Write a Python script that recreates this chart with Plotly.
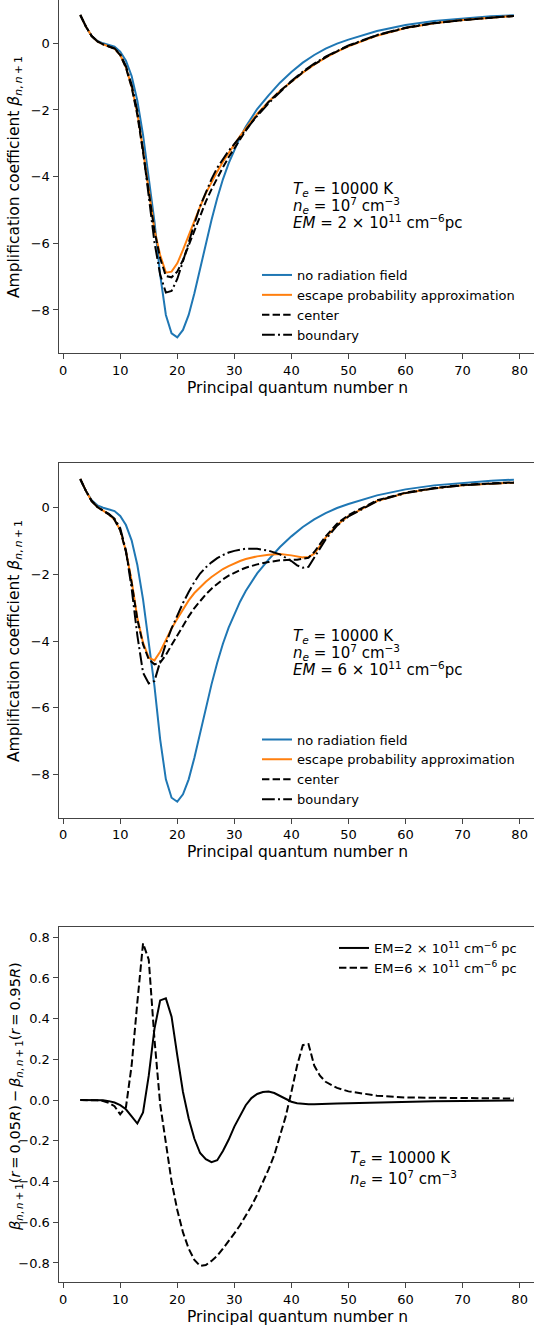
import plotly.graph_objects as go

# ---------------- data ----------------
n_A = list(range(3, 33)) + [34, 36, 38, 40, 42, 44, 46, 48, 50, 55, 60, 65, 70, 75, 79]

no_rad = [0.85, 0.50, 0.22, 0.07, 0.0, -0.05, -0.10, -0.25, -0.52, -0.98,
          -1.72, -2.75, -4.0, -5.35, -6.95, -8.15, -8.70, -8.82, -8.60, -8.15,
          -7.50, -6.75, -6.0, -5.30, -4.65, -4.08, -3.60, -3.18, -2.82, -2.50,
          -1.97, -1.56, -1.18, -0.86, -0.58, -0.35, -0.16, -0.01, 0.11, 0.37,
          0.55, 0.67, 0.75, 0.81, 0.84]

esc_A = [0.85, 0.50, 0.22, 0.06, -0.03, -0.09, -0.16, -0.35, -0.72, -1.30,
         -2.10, -3.20, -4.45, -5.60, -6.35, -6.88, -6.85, -6.60, -6.20, -5.75,
         -5.30, -4.90, -4.50, -4.15, -3.85, -3.55, -3.28, -3.02, -2.78, -2.55,
         -2.12, -1.75, -1.43, -1.15, -0.88, -0.64, -0.43, -0.25, -0.09, 0.23,
         0.46, 0.60, 0.70, 0.77, 0.82]

center_A = [0.85, 0.50, 0.22, 0.06, -0.03, -0.09, -0.16, -0.35, -0.73, -1.32,
            -2.15, -3.27, -4.50, -5.62, -6.45, -6.98, -7.02, -6.85, -6.50, -6.05,
            -5.60, -5.15, -4.75, -4.38, -4.03, -3.72, -3.42, -3.15, -2.88, -2.62,
            -2.15, -1.76, -1.43, -1.14, -0.87, -0.63, -0.42, -0.24, -0.08, 0.24,
            0.46, 0.60, 0.70, 0.77, 0.82]

boundary_A = [0.85, 0.50, 0.22, 0.06, -0.03, -0.09, -0.15, -0.325, -0.685, -1.24,
              -2.035, -3.21, -4.62, -5.97, -6.94, -7.48, -7.43, -7.07, -6.54, -5.96,
              -5.41, -4.89, -4.46, -4.075, -3.735, -3.47, -3.225, -3.02, -2.805, -2.595,
              -2.18, -1.80, -1.45, -1.13, -0.85, -0.61, -0.40, -0.22, -0.065, 0.25,
              0.47, 0.61, 0.70, 0.77, 0.82]

n_B = list(range(3, 33)) + [34, 36, 38, 40, 41, 42, 43, 44, 45, 46, 48, 50, 55, 60, 65, 70, 75, 79]

esc_B = [0.86, 0.50, 0.20, 0.02, -0.09, -0.20, -0.36, -0.67, -1.30, -2.20,
         -3.30, -4.05, -4.50, -4.58, -4.32, -3.95, -3.62, -3.33, -3.05, -2.78,
         -2.56, -2.38, -2.22, -2.08, -1.95, -1.84, -1.75, -1.67, -1.60, -1.54,
         -1.46, -1.41, -1.39, -1.43, -1.46, -1.49, -1.48, -1.38, -1.15, -0.90,
         -0.52, -0.25, 0.20, 0.44, 0.58, 0.67, 0.72, 0.75]

center_B = [0.86, 0.50, 0.20, 0.02, -0.09, -0.20, -0.36, -0.68, -1.32, -2.25,
            -3.35, -4.10, -4.55, -4.70, -4.65, -4.42, -4.12, -3.82, -3.53, -3.26,
            -3.01, -2.79, -2.60, -2.43, -2.28, -2.15, -2.04, -1.95, -1.87, -1.80,
            -1.70, -1.63, -1.58, -1.56, -1.56, -1.53, -1.50, -1.33, -1.10, -0.86,
            -0.48, -0.22, 0.22, 0.45, 0.59, 0.68, 0.73, 0.76]

boundary_B = [0.86, 0.50, 0.20, 0.021, -0.086, -0.187, -0.33, -0.61, -1.285, -2.42,
              -3.83, -4.95, -5.27, -5.20, -4.62, -4.08, -3.62, -3.22, -2.86, -2.53,
              -2.225, -1.975, -1.79, -1.64, -1.515, -1.42, -1.345, -1.295, -1.255, -1.23,
              -1.235, -1.29, -1.40, -1.60, -1.73, -1.80, -1.775, -1.50, -1.22, -0.95,
              -0.54, -0.263, 0.198, 0.437, 0.579, 0.67, 0.721, 0.752]

n_C = list(range(3, 47)) + [48, 50, 55, 60, 65, 70, 75, 79]

diff_em2 = [0.0, 0.0, 0.0, 0.0, -0.001, -0.005, -0.012, -0.025, -0.045, -0.08,
            -0.115, -0.06, 0.12, 0.35, 0.49, 0.50, 0.41, 0.22, 0.04, -0.09,
            -0.19, -0.26, -0.29, -0.305, -0.295, -0.25, -0.195, -0.13, -0.075, -0.025,
            0.01, 0.03, 0.04, 0.042, 0.035, 0.02, 0.005, -0.008, -0.015, -0.019,
            -0.02, -0.02, -0.02, -0.019, -0.017, -0.015, -0.011, -0.008, -0.005, -0.004,
            -0.003, -0.002]

diff_em6 = [0.0, 0.0, 0.0, -0.001, -0.004, -0.013, -0.03, -0.07, -0.035, 0.17,
            0.48, 0.77, 0.69, 0.30, -0.02, -0.22, -0.40, -0.54, -0.65, -0.73,
            -0.785, -0.815, -0.81, -0.79, -0.765, -0.73, -0.695, -0.655, -0.615, -0.57,
            -0.52, -0.465, -0.405, -0.34, -0.27, -0.18, -0.08, 0.04, 0.17, 0.27,
            0.275, 0.17, 0.12, 0.09, 0.06, 0.043, 0.022, 0.013, 0.011, 0.01,
            0.009, 0.008]

x_ticks = [0, 10, 20, 30, 40, 50, 60, 70, 80]
series_names = ["no radiation field", "escape probability approximation", "center", "boundary"]
em_names = ["EM=2 × 10<sup>11</sup> cm<sup>−6</sup> pc", "EM=6 × 10<sup>11</sup> cm<sup>−6</sup> pc"]

# ---------------- styling ----------------
W, H = 534, 1333
FONT = "DejaVu Sans"
BLUE, ORANGE, BLACK = "#1f77b4", "#ff7f0e", "#000000"
LW = 2.0
DASH = "7.4px,3.2px"
DASHDOT = "12.8px,3.2px,2px,3.2px"
AXC = "#444444"

def fx(px):
    return px / W

def fy(py):
    return 1 - py / H

fig = go.Figure()

def add_line(x, y, name, color, dash, xa, ya, leg):
    fig.add_trace(go.Scatter(x=x, y=y, mode="lines", name=name,
                             line=dict(color=color, width=LW, dash=dash),
                             xaxis=xa, yaxis=ya, legend=leg, showlegend=True))

# panel 1
add_line(n_A, no_rad, series_names[0], BLUE, "solid", "x", "y", "legend")
add_line(n_A, esc_A, series_names[1], ORANGE, "solid", "x", "y", "legend")
add_line(n_A, center_A, series_names[2], BLACK, DASH, "x", "y", "legend")
add_line(n_A, boundary_A, series_names[3], BLACK, DASHDOT, "x", "y", "legend")
# panel 2
add_line(n_A, no_rad, series_names[0], BLUE, "solid", "x2", "y2", "legend2")
add_line(n_B, esc_B, series_names[1], ORANGE, "solid", "x2", "y2", "legend2")
add_line(n_B, center_B, series_names[2], BLACK, DASH, "x2", "y2", "legend2")
add_line(n_B, boundary_B, series_names[3], BLACK, DASHDOT, "x2", "y2", "legend2")
# panel 3
add_line(n_C, diff_em2, em_names[0], BLACK, "solid", "x3", "y3", "legend3")
add_line(n_C, diff_em6, em_names[1], BLACK, DASH, "x3", "y3", "legend3")

xdom = [fx(58.6), 1.0]
xr = [-0.8, 82.52]

def xaxis(anchor, mirror):
    return dict(domain=xdom, range=xr, anchor=anchor, tickvals=x_ticks,
                showline=True, linecolor=AXC, linewidth=1.2, mirror=mirror,
                ticks="outside", ticklen=5, tickwidth=1.1, tickcolor=AXC,
                showgrid=False, zeroline=False,
                tickfont=dict(family=FONT, size=13, color="black"))

def yaxis(anchor, dom, rng, dtick, fmt):
    return dict(domain=dom, range=rng, anchor=anchor, dtick=dtick, tick0=0,
                tickformat=fmt,
                showline=True, linecolor=AXC, linewidth=1.2, mirror=False,
                ticks="outside", ticklen=5, tickwidth=1.1, tickcolor=AXC,
                showgrid=False, zeroline=False,
                tickfont=dict(family=FONT, size=13, color="black"))

dom1 = [fy(353.3), 1.0]
dom2 = [fy(817.7), fy(462.7)]
dom3 = [fy(1282.3), fy(927.3)]

legend_common = dict(font=dict(family=FONT, size=13, color="black"),
                     bgcolor="rgba(0,0,0,0)", borderwidth=0,
                     xanchor="left", yanchor="top", itemwidth=30,
                     tracegroupgap=0)

fig.update_layout(
    width=W, height=H, margin=dict(l=0, r=0, t=0, b=0),
    paper_bgcolor="white", plot_bgcolor="white",
    font=dict(family=FONT, size=13, color="black"),
    xaxis=xaxis("y", False), yaxis=yaxis("x", dom1, [-9.30, 1.30], 2, "d"),
    xaxis2=xaxis("y2", True), yaxis2=yaxis("x2", dom2, [-9.30, 1.35], 2, "d"),
    xaxis3=xaxis("y3", True), yaxis3=yaxis("x3", dom3, [-0.895, 0.849], 0.2, ".1f"),
    legend=dict(x=fx(257), y=fy(260), **legend_common),
    legend2=dict(x=fx(257), y=fy(724.5), **legend_common),
    legend3=dict(x=fx(334), y=fy(933), **legend_common),
)

ann = []
T = "\u2009"
sub = "<sub><i>n</i>," + T + "<i>n</i>" + T + "+" + T + "1</sub>"
ylab1 = "Amplification coefficient <i>β</i>" + sub
ylab3 = ("<i>β</i>" + sub + "(<i>r</i>" + T + "=" + T + "0.05<i>R</i>)" + T + "−" + T +
         "<i>β</i>" + sub + "(<i>r</i>" + T + "=" + T + "0.95<i>R</i>)")
for yc, txt, fs in [(177, ylab1, 15.5), (641, ylab1, 15.5), (1097, ylab3, 14.6)]:
    ann.append(dict(x=fx(15), y=fy(yc), xref="paper", yref="paper", text=txt,
                    textangle=-90, showarrow=False, xanchor="center", yanchor="middle",
                    font=dict(family=FONT, size=fs, color="black")))
for yc in [388, 852, 1316.5]:
    ann.append(dict(x=fx(297), y=fy(yc), xref="paper", yref="paper",
                    text="Principal quantum number n", showarrow=False,
                    xanchor="center", yanchor="middle",
                    font=dict(family=FONT, size=15.5, color="black")))

te = "<i>T</i><sub><i>e</i></sub> = 10000 K"
ne = "<i>n</i><sub><i>e</i></sub> = 10<sup>7</sup> cm<sup>−3</sup>"
em2 = "<i>EM</i> = 2 × 10<sup>11</sup> cm<sup>−6</sup>pc"
em6 = "<i>EM</i> = 6 × 10<sup>11</sup> cm<sup>−6</sup>pc"
for xl, lines in [(291, [(189, te), (205, ne), (221.5, em2)]),
                  (291, [(636.5, te), (652.5, ne), (669, em6)]),
                  (348, [(1158, te), (1178, ne)])]:
    for yc, t in lines:
        ann.append(dict(x=fx(xl), y=fy(yc), xref="paper", yref="paper", text=t,
                        showarrow=False, xanchor="left", yanchor="middle",
                        font=dict(family=FONT, size=15, color="black")))

fig.update_layout(annotations=ann)
fig.write_html("out.html", config={"displayModeBar": False},
               post_script="document.body.style.margin='0';document.body.style.overflow='hidden';")
